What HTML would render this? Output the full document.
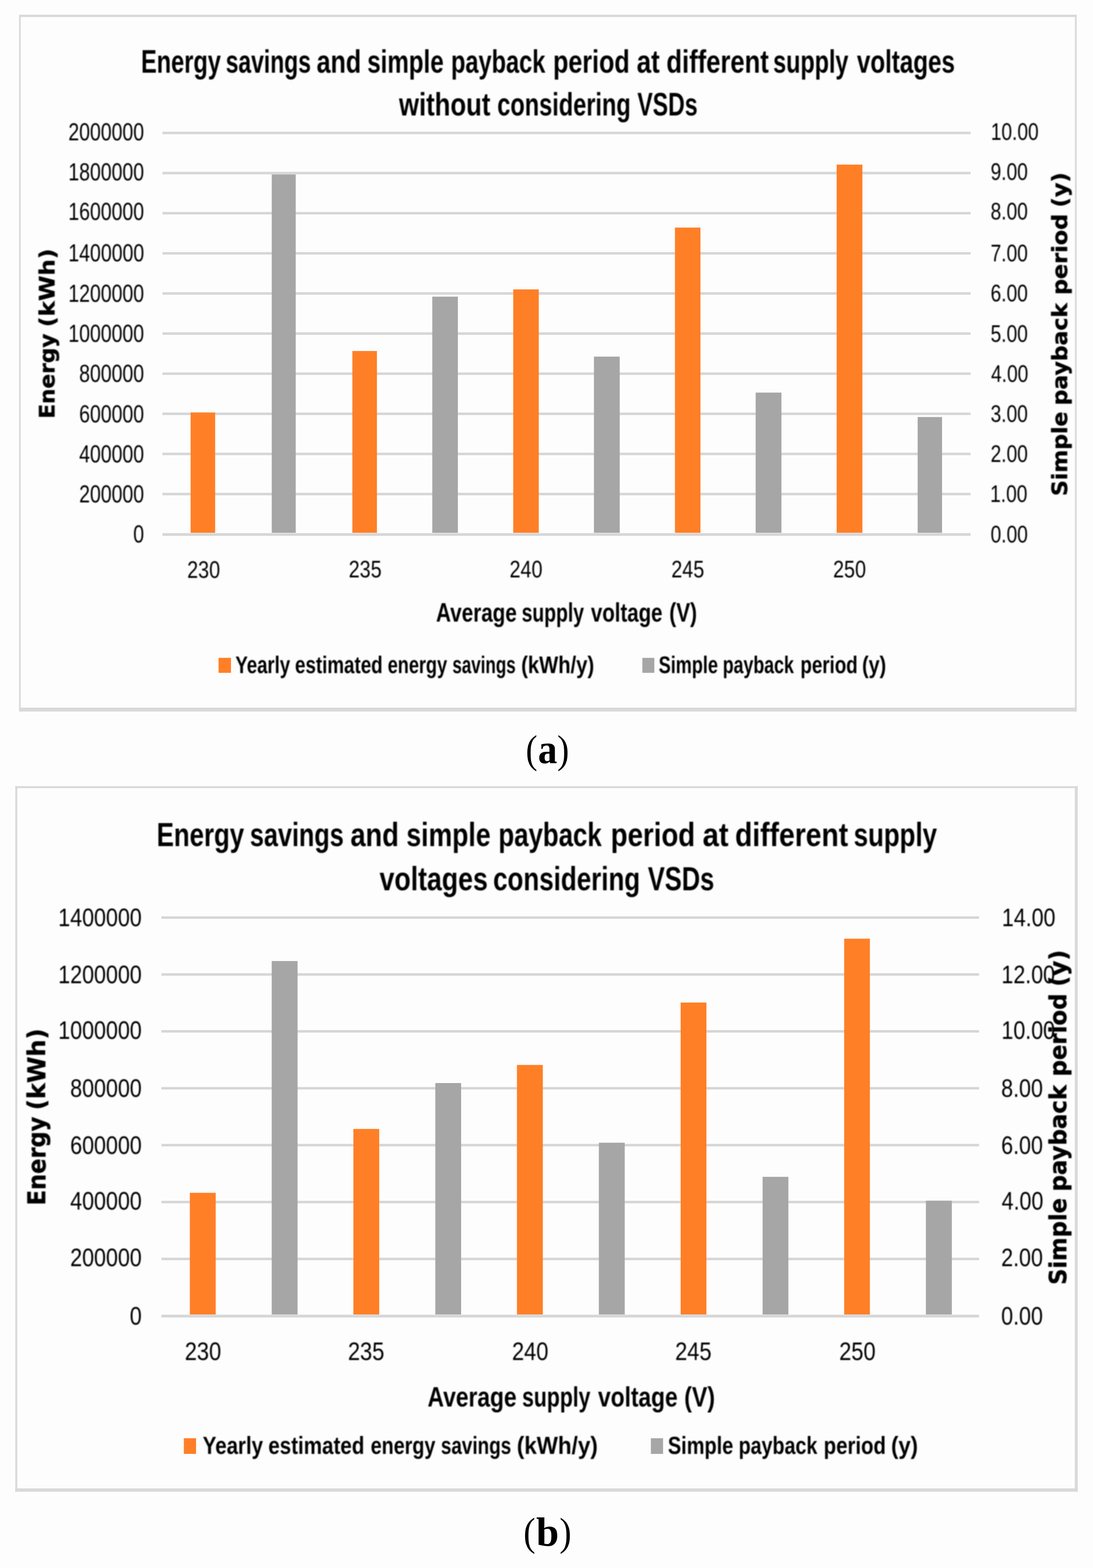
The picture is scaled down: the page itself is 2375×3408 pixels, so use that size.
<!DOCTYPE html>
<html lang="en">
<head>
<meta charset="utf-8">
<title>Energy savings and simple payback period at different supply voltages</title>
<style>
html,body{margin:0;padding:0;background:#fdfdfd;}
body{width:2375px;height:3408px;overflow:hidden;}
svg{display:block;}
text{white-space:pre;}
</style>
</head>
<body>
<svg width="2375" height="3408" viewBox="0 0 2375 3408">
<defs>
<filter id="soft" filterUnits="userSpaceOnUse" x="0" y="0" width="2375" height="3408" color-interpolation-filters="sRGB"><feGaussianBlur stdDeviation="0.90"/></filter>
<filter id="soft2" filterUnits="userSpaceOnUse" x="0" y="0" width="2375" height="3408" color-interpolation-filters="sRGB"><feGaussianBlur stdDeviation="0.6"/></filter>
</defs>
<rect width="2375" height="3408" fill="#fdfdfd"/>
<g id="shapes" filter="url(#soft2)">
<rect x="41.50" y="32.00" width="2298.00" height="5.00" fill="#d9d9d9"/>
<rect x="41.50" y="1538.00" width="2298.00" height="8.50" fill="#d9d9d9"/>
<rect x="41.50" y="32.00" width="3.50" height="1514.50" fill="#d9d9d9"/>
<rect x="2335.75" y="32.00" width="3.75" height="1514.50" fill="#d9d9d9"/>
<rect x="33.25" y="1708.75" width="2308.50" height="4.25" fill="#d9d9d9"/>
<rect x="33.25" y="3235.00" width="2308.50" height="7.25" fill="#d9d9d9"/>
<rect x="33.25" y="1708.75" width="4.25" height="1533.50" fill="#d9d9d9"/>
<rect x="2335.50" y="1708.75" width="6.25" height="1533.50" fill="#d9d9d9"/>
<rect x="353" y="286.30" width="1756.00" height="5.4" fill="#d6d6d6"/>
<rect x="353" y="373.50" width="1756.00" height="5.4" fill="#d6d6d6"/>
<rect x="353" y="460.70" width="1756.00" height="5.4" fill="#d6d6d6"/>
<rect x="353" y="547.90" width="1756.00" height="5.4" fill="#d6d6d6"/>
<rect x="353" y="635.10" width="1756.00" height="5.4" fill="#d6d6d6"/>
<rect x="353" y="722.30" width="1756.00" height="5.4" fill="#d6d6d6"/>
<rect x="353" y="809.50" width="1756.00" height="5.4" fill="#d6d6d6"/>
<rect x="353" y="896.70" width="1756.00" height="5.4" fill="#d6d6d6"/>
<rect x="353" y="983.90" width="1756.00" height="5.4" fill="#d6d6d6"/>
<rect x="353" y="1071.10" width="1756.00" height="5.4" fill="#d6d6d6"/>
<rect x="353" y="1158.80" width="1756.00" height="5.8" fill="#d6d6d6"/>
<rect x="350.6" y="1991.60" width="1776.90" height="5.4" fill="#d6d6d6"/>
<rect x="350.6" y="2115.26" width="1776.90" height="5.4" fill="#d6d6d6"/>
<rect x="350.6" y="2238.92" width="1776.90" height="5.4" fill="#d6d6d6"/>
<rect x="350.6" y="2362.58" width="1776.90" height="5.4" fill="#d6d6d6"/>
<rect x="350.6" y="2486.24" width="1776.90" height="5.4" fill="#d6d6d6"/>
<rect x="350.6" y="2609.90" width="1776.90" height="5.4" fill="#d6d6d6"/>
<rect x="350.6" y="2733.56" width="1776.90" height="5.4" fill="#d6d6d6"/>
<rect x="350.6" y="2857.52" width="1776.90" height="6.0" fill="#d6d6d6"/>
<rect x="414.20" y="896.50" width="53.30" height="261.50" fill="#ff7f27"/>
<rect x="590.50" y="379.20" width="52.10" height="778.80" fill="#a6a6a6"/>
<rect x="765.60" y="762.90" width="53.40" height="395.10" fill="#ff7f27"/>
<rect x="939.30" y="644.75" width="55.60" height="513.25" fill="#a6a6a6"/>
<rect x="1115.20" y="629.00" width="55.50" height="529.00" fill="#ff7f27"/>
<rect x="1290.60" y="775.10" width="56.00" height="382.90" fill="#a6a6a6"/>
<rect x="1466.60" y="494.60" width="55.40" height="663.40" fill="#ff7f27"/>
<rect x="1642.00" y="853.30" width="56.00" height="304.70" fill="#a6a6a6"/>
<rect x="1818.00" y="357.80" width="55.90" height="800.20" fill="#ff7f27"/>
<rect x="1994.00" y="906.40" width="53.00" height="251.60" fill="#a6a6a6"/>
<rect x="412.50" y="2592.50" width="56.20" height="264.50" fill="#ff7f27"/>
<rect x="590.40" y="2088.80" width="56.20" height="768.20" fill="#a6a6a6"/>
<rect x="767.90" y="2453.70" width="56.10" height="403.30" fill="#ff7f27"/>
<rect x="945.90" y="2354.00" width="56.10" height="503.00" fill="#a6a6a6"/>
<rect x="1123.30" y="2314.60" width="56.20" height="542.40" fill="#ff7f27"/>
<rect x="1301.30" y="2483.60" width="56.20" height="373.40" fill="#a6a6a6"/>
<rect x="1479.00" y="2179.00" width="56.00" height="678.00" fill="#ff7f27"/>
<rect x="1657.10" y="2557.80" width="56.00" height="299.20" fill="#a6a6a6"/>
<rect x="1834.30" y="2040.20" width="55.90" height="816.80" fill="#ff7f27"/>
<rect x="2011.90" y="2609.60" width="56.40" height="247.40" fill="#a6a6a6"/>
<rect x="474.9" y="1429.8" width="27" height="32.6" fill="#ff7f27"/>
<rect x="1395.8" y="1429.8" width="26" height="32.6" fill="#a6a6a6"/>
<rect x="399.5" y="3126" width="26.5" height="34" fill="#ff7f27"/>
<rect x="1414.3" y="3126" width="26.5" height="34" fill="#a6a6a6"/>
</g>
<g id="labels" filter="url(#soft)">
<text id="a_yl0" transform="translate(313.00 304.80) scale(0.7895 1)" font-family='"Liberation Sans", sans-serif' font-weight="normal" font-size="53.57" text-anchor="end" fill="#000">2000000</text>
<text id="a_yl1" transform="translate(313.00 391.80) scale(0.7895 1)" font-family='"Liberation Sans", sans-serif' font-weight="normal" font-size="53.57" text-anchor="end" fill="#000">1800000</text>
<text id="a_yl2" transform="translate(313.00 478.30) scale(0.7895 1)" font-family='"Liberation Sans", sans-serif' font-weight="normal" font-size="53.57" text-anchor="end" fill="#000">1600000</text>
<text id="a_yl3" transform="translate(313.20 568.30) scale(0.7895 1)" font-family='"Liberation Sans", sans-serif' font-weight="normal" font-size="53.57" text-anchor="end" fill="#000">1400000</text>
<text id="a_yl4" transform="translate(313.00 656.30) scale(0.7895 1)" font-family='"Liberation Sans", sans-serif' font-weight="normal" font-size="53.57" text-anchor="end" fill="#000">1200000</text>
<text id="a_yl5" transform="translate(313.00 743.30) scale(0.7895 1)" font-family='"Liberation Sans", sans-serif' font-weight="normal" font-size="53.57" text-anchor="end" fill="#000">1000000</text>
<text id="a_yl6" transform="translate(313.00 830.30) scale(0.7895 1)" font-family='"Liberation Sans", sans-serif' font-weight="normal" font-size="53.57" text-anchor="end" fill="#000">800000</text>
<text id="a_yl7" transform="translate(313.00 918.30) scale(0.7895 1)" font-family='"Liberation Sans", sans-serif' font-weight="normal" font-size="53.57" text-anchor="end" fill="#000">600000</text>
<text id="a_yl8" transform="translate(313.00 1005.30) scale(0.7895 1)" font-family='"Liberation Sans", sans-serif' font-weight="normal" font-size="53.57" text-anchor="end" fill="#000">400000</text>
<text id="a_yl9" transform="translate(313.00 1092.30) scale(0.7895 1)" font-family='"Liberation Sans", sans-serif' font-weight="normal" font-size="53.57" text-anchor="end" fill="#000">200000</text>
<text id="a_yl10" transform="translate(313.00 1179.30) scale(0.7895 1)" font-family='"Liberation Sans", sans-serif' font-weight="normal" font-size="53.57" text-anchor="end" fill="#000">0</text>
<text id="a_yr0" transform="translate(2152.90 304.30) scale(0.7962 1)" font-family='"Liberation Sans", sans-serif' font-weight="normal" font-size="52.20" text-anchor="start" fill="#000">10.00</text>
<text id="a_yr1" transform="translate(2152.50 390.80) scale(0.7962 1)" font-family='"Liberation Sans", sans-serif' font-weight="normal" font-size="52.20" text-anchor="start" fill="#000">9.00</text>
<text id="a_yr2" transform="translate(2152.50 477.30) scale(0.7962 1)" font-family='"Liberation Sans", sans-serif' font-weight="normal" font-size="52.20" text-anchor="start" fill="#000">8.00</text>
<text id="a_yr3" transform="translate(2152.50 568.30) scale(0.7962 1)" font-family='"Liberation Sans", sans-serif' font-weight="normal" font-size="52.20" text-anchor="start" fill="#000">7.00</text>
<text id="a_yr4" transform="translate(2152.50 655.30) scale(0.7962 1)" font-family='"Liberation Sans", sans-serif' font-weight="normal" font-size="52.20" text-anchor="start" fill="#000">6.00</text>
<text id="a_yr5" transform="translate(2152.50 743.30) scale(0.7962 1)" font-family='"Liberation Sans", sans-serif' font-weight="normal" font-size="52.20" text-anchor="start" fill="#000">5.00</text>
<text id="a_yr6" transform="translate(2153.50 830.30) scale(0.7962 1)" font-family='"Liberation Sans", sans-serif' font-weight="normal" font-size="52.20" text-anchor="start" fill="#000">4.00</text>
<text id="a_yr7" transform="translate(2152.50 917.30) scale(0.7962 1)" font-family='"Liberation Sans", sans-serif' font-weight="normal" font-size="52.20" text-anchor="start" fill="#000">3.00</text>
<text id="a_yr8" transform="translate(2152.50 1004.30) scale(0.7962 1)" font-family='"Liberation Sans", sans-serif' font-weight="normal" font-size="52.20" text-anchor="start" fill="#000">2.00</text>
<text id="a_yr9" transform="translate(2151.50 1091.30) scale(0.7962 1)" font-family='"Liberation Sans", sans-serif' font-weight="normal" font-size="52.20" text-anchor="start" fill="#000">1.00</text>
<text id="a_yr10" transform="translate(2152.50 1179.30) scale(0.7962 1)" font-family='"Liberation Sans", sans-serif' font-weight="normal" font-size="52.20" text-anchor="start" fill="#000">0.00</text>
<text id="a_xl0" transform="translate(442.50 1255.80) scale(0.8395 1)" font-family='"Liberation Sans", sans-serif' font-weight="normal" font-size="50.91" text-anchor="middle" fill="#000">230</text>
<text id="a_xl1" transform="translate(793.50 1254.80) scale(0.8395 1)" font-family='"Liberation Sans", sans-serif' font-weight="normal" font-size="50.91" text-anchor="middle" fill="#000">235</text>
<text id="a_xl2" transform="translate(1143.00 1254.80) scale(0.8395 1)" font-family='"Liberation Sans", sans-serif' font-weight="normal" font-size="50.91" text-anchor="middle" fill="#000">240</text>
<text id="a_xl3" transform="translate(1494.50 1254.80) scale(0.8395 1)" font-family='"Liberation Sans", sans-serif' font-weight="normal" font-size="50.91" text-anchor="middle" fill="#000">245</text>
<text id="a_xl4" transform="translate(1846.00 1254.80) scale(0.8395 1)" font-family='"Liberation Sans", sans-serif' font-weight="normal" font-size="50.91" text-anchor="middle" fill="#000">250</text>
<text id="b_yl0" transform="translate(308.00 2012.80) scale(0.8486 1)" font-family='"Liberation Sans", sans-serif' font-weight="normal" font-size="54.93" text-anchor="end" fill="#000">1400000</text>
<text id="b_yl1" transform="translate(308.00 2136.60) scale(0.8486 1)" font-family='"Liberation Sans", sans-serif' font-weight="normal" font-size="54.93" text-anchor="end" fill="#000">1200000</text>
<text id="b_yl2" transform="translate(308.00 2257.90) scale(0.8486 1)" font-family='"Liberation Sans", sans-serif' font-weight="normal" font-size="54.93" text-anchor="end" fill="#000">1000000</text>
<text id="b_yl3" transform="translate(308.00 2383.70) scale(0.8486 1)" font-family='"Liberation Sans", sans-serif' font-weight="normal" font-size="54.93" text-anchor="end" fill="#000">800000</text>
<text id="b_yl4" transform="translate(308.00 2507.50) scale(0.8486 1)" font-family='"Liberation Sans", sans-serif' font-weight="normal" font-size="54.93" text-anchor="end" fill="#000">600000</text>
<text id="b_yl5" transform="translate(308.00 2628.80) scale(0.8486 1)" font-family='"Liberation Sans", sans-serif' font-weight="normal" font-size="54.93" text-anchor="end" fill="#000">400000</text>
<text id="b_yl6" transform="translate(308.00 2752.10) scale(0.8486 1)" font-family='"Liberation Sans", sans-serif' font-weight="normal" font-size="54.93" text-anchor="end" fill="#000">200000</text>
<text id="b_yl7" transform="translate(308.00 2878.90) scale(0.8486 1)" font-family='"Liberation Sans", sans-serif' font-weight="normal" font-size="54.93" text-anchor="end" fill="#000">0</text>
<text id="b_yr0" transform="translate(2177.00 2012.80) scale(0.8477 1)" font-family='"Liberation Sans", sans-serif' font-weight="normal" font-size="54.93" text-anchor="start" fill="#000">14.00</text>
<text id="b_yr1" transform="translate(2176.00 2136.60) scale(0.8477 1)" font-family='"Liberation Sans", sans-serif' font-weight="normal" font-size="54.93" text-anchor="start" fill="#000">12.00</text>
<text id="b_yr2" transform="translate(2176.00 2257.90) scale(0.8477 1)" font-family='"Liberation Sans", sans-serif' font-weight="normal" font-size="54.93" text-anchor="start" fill="#000">10.00</text>
<text id="b_yr3" transform="translate(2175.50 2383.70) scale(0.8477 1)" font-family='"Liberation Sans", sans-serif' font-weight="normal" font-size="54.93" text-anchor="start" fill="#000">8.00</text>
<text id="b_yr4" transform="translate(2175.50 2507.50) scale(0.8477 1)" font-family='"Liberation Sans", sans-serif' font-weight="normal" font-size="54.93" text-anchor="start" fill="#000">6.00</text>
<text id="b_yr5" transform="translate(2176.50 2628.80) scale(0.8477 1)" font-family='"Liberation Sans", sans-serif' font-weight="normal" font-size="54.93" text-anchor="start" fill="#000">4.00</text>
<text id="b_yr6" transform="translate(2175.50 2752.10) scale(0.8477 1)" font-family='"Liberation Sans", sans-serif' font-weight="normal" font-size="54.93" text-anchor="start" fill="#000">2.00</text>
<text id="b_yr7" transform="translate(2175.50 2878.90) scale(0.8477 1)" font-family='"Liberation Sans", sans-serif' font-weight="normal" font-size="54.93" text-anchor="start" fill="#000">0.00</text>
<text id="b_xl0" transform="translate(441.00 2956.40) scale(0.8685 1)" font-family='"Liberation Sans", sans-serif' font-weight="normal" font-size="54.65" text-anchor="middle" fill="#000">230</text>
<text id="b_xl1" transform="translate(795.50 2956.40) scale(0.8685 1)" font-family='"Liberation Sans", sans-serif' font-weight="normal" font-size="54.65" text-anchor="middle" fill="#000">235</text>
<text id="b_xl2" transform="translate(1152.00 2956.40) scale(0.8685 1)" font-family='"Liberation Sans", sans-serif' font-weight="normal" font-size="54.65" text-anchor="middle" fill="#000">240</text>
<text id="b_xl3" transform="translate(1506.50 2956.40) scale(0.8685 1)" font-family='"Liberation Sans", sans-serif' font-weight="normal" font-size="54.65" text-anchor="middle" fill="#000">245</text>
<text id="b_xl4" transform="translate(1863.00 2956.40) scale(0.8685 1)" font-family='"Liberation Sans", sans-serif' font-weight="normal" font-size="54.65" text-anchor="middle" fill="#000">250</text>
<text id="a_yt" transform="translate(118.50 0) rotate(-90)" font-family='"DejaVu Sans", "Liberation Sans", sans-serif' font-weight="bold" font-size="46.80" fill="#000" stroke="#000" stroke-width="0.70" stroke-linejoin="round"><tspan x="-910.10" textLength="185.12" lengthAdjust="spacingAndGlyphs">Energy</tspan> <tspan x="-710.69" textLength="170.37" lengthAdjust="spacingAndGlyphs">(kWh)</tspan></text>
<text id="a_rt" transform="translate(2318.80 0) rotate(-90)" font-family='"DejaVu Sans", "Liberation Sans", sans-serif' font-weight="bold" font-size="46.50" fill="#000" stroke="#000" stroke-width="0.70" stroke-linejoin="round"><tspan x="-1078.08" textLength="183.63" lengthAdjust="spacingAndGlyphs">Simple</tspan> <tspan x="-881.06" textLength="222.57" lengthAdjust="spacingAndGlyphs">payback</tspan> <tspan x="-641.12" textLength="176.27" lengthAdjust="spacingAndGlyphs">period</tspan> <tspan x="-450.87" textLength="76.25" lengthAdjust="spacingAndGlyphs">(y)</tspan></text>
<text id="b_yt" transform="translate(98.30 0) rotate(-90)" font-family='"DejaVu Sans", "Liberation Sans", sans-serif' font-weight="bold" font-size="52.50" fill="#000" stroke="#000" stroke-width="0.70" stroke-linejoin="round"><tspan x="-2619.63" textLength="192.66" lengthAdjust="spacingAndGlyphs">Energy</tspan> <tspan x="-2412.68" textLength="177.35" lengthAdjust="spacingAndGlyphs">(kWh)</tspan></text>
<text id="b_rt" transform="translate(2316.70 0) rotate(-90)" font-family='"DejaVu Sans", "Liberation Sans", sans-serif' font-weight="bold" font-size="51.50" fill="#000" stroke="#000" stroke-width="0.70" stroke-linejoin="round"><tspan x="-2792.58" textLength="188.63" lengthAdjust="spacingAndGlyphs">Simple</tspan> <tspan x="-2589.56" textLength="231.56" lengthAdjust="spacingAndGlyphs">payback</tspan> <tspan x="-2339.62" textLength="180.26" lengthAdjust="spacingAndGlyphs">period</tspan> <tspan x="-2144.34" textLength="79.75" lengthAdjust="spacingAndGlyphs">(y)</tspan></text>
</g>
<g id="titles" filter="url(#soft)">
<text id="a_t1" y="157.60" font-family='"Liberation Sans", sans-serif' font-weight="bold" font-size="70.50" fill="#000"><tspan x="306.42" textLength="173.59" lengthAdjust="spacingAndGlyphs">Energy</tspan> <tspan x="490.44" textLength="185.12" lengthAdjust="spacingAndGlyphs">savings</tspan> <tspan x="687.92" textLength="96.83" lengthAdjust="spacingAndGlyphs">and</tspan> <tspan x="797.94" textLength="166.11" lengthAdjust="spacingAndGlyphs">simple</tspan> <tspan x="979.92" textLength="205.11" lengthAdjust="spacingAndGlyphs">payback</tspan> <tspan x="1201.83" textLength="166.33" lengthAdjust="spacingAndGlyphs">period</tspan> <tspan x="1383.38" textLength="50.17" lengthAdjust="spacingAndGlyphs">at</tspan> <tspan x="1447.97" textLength="222.54" lengthAdjust="spacingAndGlyphs">different</tspan> <tspan x="1679.96" textLength="163.57" lengthAdjust="spacingAndGlyphs">supply</tspan> <tspan x="1861.98" textLength="213.06" lengthAdjust="spacingAndGlyphs">voltages</tspan></text>
<text id="a_t2" y="251.00" font-family='"Liberation Sans", sans-serif' font-weight="bold" font-size="70.50" fill="#000"><tspan x="867.00" textLength="198.51" lengthAdjust="spacingAndGlyphs">without</tspan> <tspan x="1080.47" textLength="290.09" lengthAdjust="spacingAndGlyphs">considering</tspan> <tspan x="1384.98" textLength="130.82" lengthAdjust="spacingAndGlyphs">VSDs</tspan></text>
<text id="a_xt" y="1350.90" font-family='"Liberation Sans", sans-serif' font-weight="bold" font-size="58.00" fill="#000"><tspan x="947.46" textLength="175.57" lengthAdjust="spacingAndGlyphs">Average</tspan> <tspan x="1133.45" textLength="135.57" lengthAdjust="spacingAndGlyphs">supply</tspan> <tspan x="1283.99" textLength="155.52" lengthAdjust="spacingAndGlyphs">voltage</tspan> <tspan x="1454.36" textLength="60.32" lengthAdjust="spacingAndGlyphs">(V)</tspan></text>
<text id="a_lg1" y="1463.00" font-family='"Liberation Sans", sans-serif' font-weight="bold" font-size="52.20" fill="#000"><tspan x="511.47" textLength="119.04" lengthAdjust="spacingAndGlyphs">Yearly</tspan> <tspan x="640.97" textLength="190.58" lengthAdjust="spacingAndGlyphs">estimated</tspan> <tspan x="842.46" textLength="129.06" lengthAdjust="spacingAndGlyphs">energy</tspan> <tspan x="982.96" textLength="137.58" lengthAdjust="spacingAndGlyphs">savings</tspan> <tspan x="1132.43" textLength="158.62" lengthAdjust="spacingAndGlyphs">(kWh/y)</tspan></text>
<text id="a_lg2" y="1463.00" font-family='"Liberation Sans", sans-serif' font-weight="bold" font-size="52.20" fill="#000"><tspan x="1431.21" textLength="128.82" lengthAdjust="spacingAndGlyphs">Simple</tspan> <tspan x="1570.45" textLength="154.56" lengthAdjust="spacingAndGlyphs">payback</tspan> <tspan x="1739.37" textLength="124.22" lengthAdjust="spacingAndGlyphs">period</tspan> <tspan x="1873.29" textLength="52.36" lengthAdjust="spacingAndGlyphs">(y)</tspan></text>
<text id="b_t1" y="1838.70" font-family='"Liberation Sans", sans-serif' font-weight="bold" font-size="72.50" fill="#000"><tspan x="340.40" textLength="190.12" lengthAdjust="spacingAndGlyphs">Energy</tspan> <tspan x="542.94" textLength="204.13" lengthAdjust="spacingAndGlyphs">savings</tspan> <tspan x="761.39" textLength="105.33" lengthAdjust="spacingAndGlyphs">and</tspan> <tspan x="882.96" textLength="183.09" lengthAdjust="spacingAndGlyphs">simple</tspan> <tspan x="1082.93" textLength="224.59" lengthAdjust="spacingAndGlyphs">payback</tspan> <tspan x="1327.07" textLength="183.39" lengthAdjust="spacingAndGlyphs">period</tspan> <tspan x="1526.67" textLength="56.39" lengthAdjust="spacingAndGlyphs">at</tspan> <tspan x="1597.22" textLength="245.79" lengthAdjust="spacingAndGlyphs">different</tspan> <tspan x="1854.95" textLength="181.07" lengthAdjust="spacingAndGlyphs">supply</tspan></text>
<text id="b_t2" y="1935.40" font-family='"Liberation Sans", sans-serif' font-weight="bold" font-size="72.50" fill="#000"><tspan x="824.74" textLength="235.30" lengthAdjust="spacingAndGlyphs">voltages</tspan> <tspan x="1071.47" textLength="319.59" lengthAdjust="spacingAndGlyphs">considering</tspan> <tspan x="1407.71" textLength="144.36" lengthAdjust="spacingAndGlyphs">VSDs</tspan></text>
<text id="b_xt" y="3056.90" font-family='"Liberation Sans", sans-serif' font-weight="bold" font-size="60.80" fill="#000"><tspan x="928.97" textLength="193.56" lengthAdjust="spacingAndGlyphs">Average</tspan> <tspan x="1134.46" textLength="148.56" lengthAdjust="spacingAndGlyphs">supply</tspan> <tspan x="1299.48" textLength="173.04" lengthAdjust="spacingAndGlyphs">voltage</tspan> <tspan x="1486.86" textLength="66.83" lengthAdjust="spacingAndGlyphs">(V)</tspan></text>
<text id="b_lg1" y="3160.00" font-family='"Liberation Sans", sans-serif' font-weight="bold" font-size="53.30" fill="#000"><tspan x="440.46" textLength="131.05" lengthAdjust="spacingAndGlyphs">Yearly</tspan> <tspan x="582.96" textLength="208.85" lengthAdjust="spacingAndGlyphs">estimated</tspan> <tspan x="805.46" textLength="140.57" lengthAdjust="spacingAndGlyphs">energy</tspan> <tspan x="957.94" textLength="152.86" lengthAdjust="spacingAndGlyphs">savings</tspan> <tspan x="1122.93" textLength="176.12" lengthAdjust="spacingAndGlyphs">(kWh/y)</tspan></text>
<text id="b_lg2" y="3160.00" font-family='"Liberation Sans", sans-serif' font-weight="bold" font-size="53.30" fill="#000"><tspan x="1451.20" textLength="142.10" lengthAdjust="spacingAndGlyphs">Simple</tspan> <tspan x="1604.94" textLength="171.08" lengthAdjust="spacingAndGlyphs">payback</tspan> <tspan x="1789.86" textLength="135.25" lengthAdjust="spacingAndGlyphs">period</tspan> <tspan x="1936.31" textLength="58.33" lengthAdjust="spacingAndGlyphs">(y)</tspan></text>
</g>
<g id="captions">
<text id="cap_a" font-family='"Liberation Serif", serif' fill="#000"><tspan x="1142.51" y="1657.88" font-size="87.00" textLength="25.26" lengthAdjust="spacingAndGlyphs" font-weight="normal">(</tspan><tspan x="1169.00" y="1658.94" font-size="91.59" textLength="41.80" lengthAdjust="spacingAndGlyphs" font-weight="bold">a</tspan><tspan x="1210.65" y="1657.88" font-size="87.00" textLength="25.88" lengthAdjust="spacingAndGlyphs" font-weight="normal">)</tspan></text>
<text id="cap_b" font-family='"Liberation Serif", serif' fill="#000"><tspan x="1137.47" y="3358.76" font-size="86.60" textLength="25.88" lengthAdjust="spacingAndGlyphs" font-weight="normal">(</tspan><tspan x="1165.00" y="3359.97" font-size="89.66" textLength="49.50" lengthAdjust="spacingAndGlyphs" font-weight="bold">b</tspan><tspan x="1215.65" y="3358.76" font-size="86.60" textLength="25.88" lengthAdjust="spacingAndGlyphs" font-weight="normal">)</tspan></text>
</g>
</svg>
</body>
</html>
